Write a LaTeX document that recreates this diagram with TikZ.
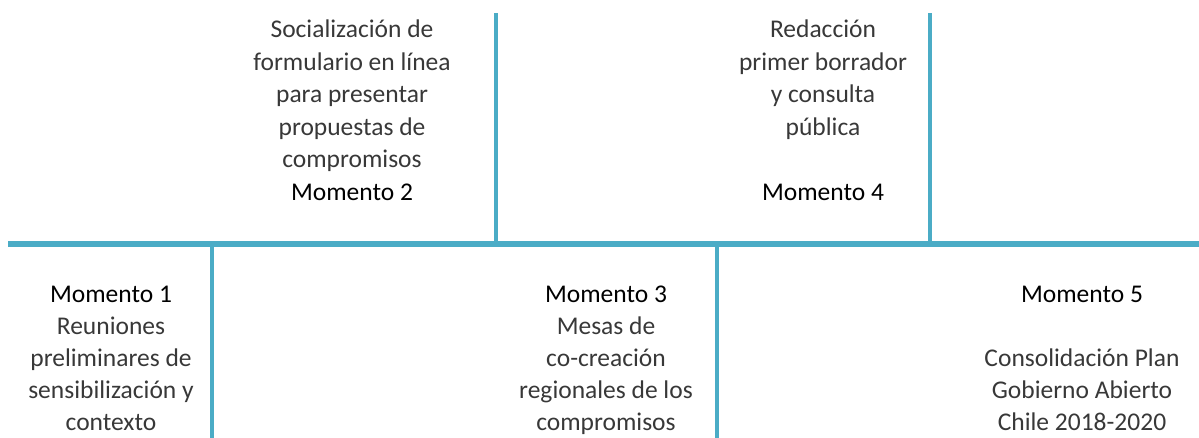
\documentclass[tikz,border=0pt]{standalone}
\usepackage{fontspec}
\setmainfont{Carlito}
\definecolor{linea}{HTML}{4BACC6}
\newcommand{\mom}[1]{\textcolor{black}{#1}}

\begin{document}
\begin{tikzpicture}[x=1pt, y=-1pt, outer sep=0pt]
  \tikzstyle{etapa}=[
    align=center,
    anchor=north,
    inner sep=0pt,
    text=black!78,
    font=\fontsize{25.5}{32.5}\selectfont
  ]
  \tikzstyle{etapabaja}=[etapa, font=\fontsize{25.5}{32}\selectfont]
  \tikzstyle{eje}=[line width=6pt, draw=linea]
  \tikzstyle{marca}=[line width=4pt, draw=linea]

  \useasboundingbox (0,0) rectangle (1199,438);

  \coordinate (inicio) at (8,244);
  \coordinate (fin) at (1199,244);

  \coordinate (base1) at (212,244);
  \coordinate (punta1) at (212,438);
  \coordinate (base2) at (496,244);
  \coordinate (punta2) at (496,13);
  \coordinate (base3) at (717,244);
  \coordinate (punta3) at (717,438);
  \coordinate (base4) at (930,244);
  \coordinate (punta4) at (930,13);

  \draw[marca] (base1) -- (punta1);
  \draw[marca] (base2) -- (punta2);
  \draw[marca] (base3) -- (punta3);
  \draw[marca] (base4) -- (punta4);
  \draw[eje] (inicio) -- (fin);

  \node[etapabaja] (momento1) at (111,279.6) {\strut\mom{Momento 1}\\Reuniones\\preliminares de\\sensibilización y\\contexto};
  \node[etapa] (momento2) at (352,15.25) {\strut Socialización de\\formulario en línea\\para presentar\\propuestas de\\compromisos\\\mom{Momento 2}};
  \node[etapabaja] (momento3) at (606,279.6) {\strut\mom{Momento 3}\\Mesas de\\co-creación\\regionales de los\\compromisos};
  \node[etapa] (momento4) at (823,15.25) {\strut Redacción\\primer borrador\\y consulta\\pública\\\strut\\\mom{Momento 4}};
  \node[etapabaja] (momento5) at (1082,279.6) {\strut\mom{Momento 5}\\\strut\\Consolidación Plan\\Gobierno Abierto\\Chile 2018-2020};
\end{tikzpicture}
\end{document}
